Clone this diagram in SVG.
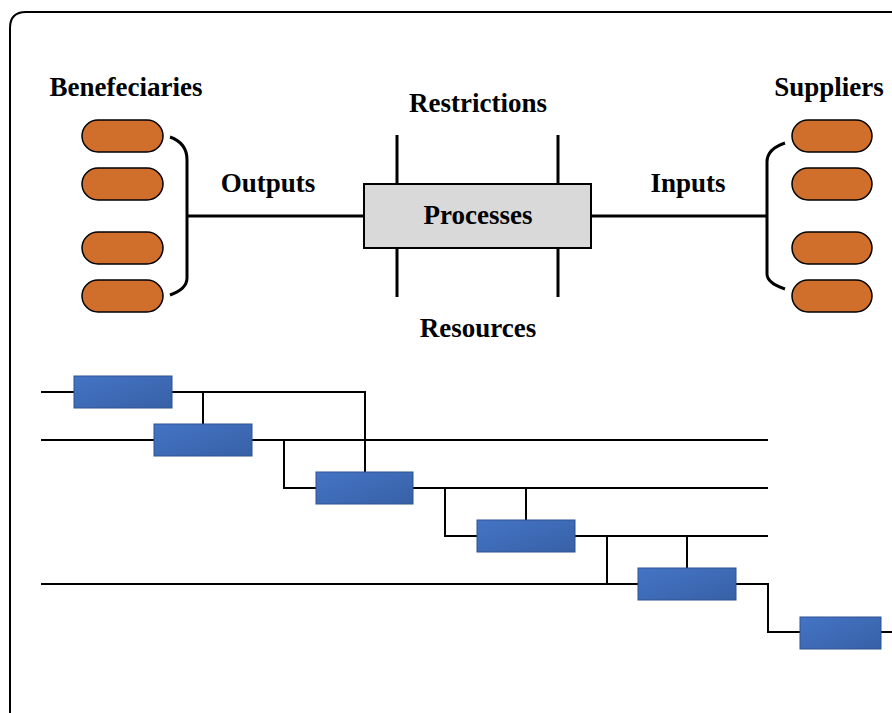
<svg xmlns="http://www.w3.org/2000/svg" width="892" height="713" viewBox="0 0 892 713">
<style>
.lbl{font-family:"Liberation Serif","Times New Roman",serif;font-weight:bold;font-size:27px;fill:#000;text-anchor:middle}
.pill{fill:#d06e2c;stroke:#000;stroke-width:1.5}
.task{fill:url(#blue);stroke:#2f528f;stroke-width:1}
.ln{fill:none;stroke:#000;stroke-width:2}
.br{fill:none;stroke:#000;stroke-width:3}
</style>
<defs>
<linearGradient id="blue" x1="0" y1="0" x2="1" y2="1">
<stop offset="0" stop-color="#4574c6"/>
<stop offset="1" stop-color="#3761a6"/>
</linearGradient>
</defs>
<rect width="892" height="713" fill="#fff"/>
<path id="frame" d="M10,740 V28 Q10,12 26,12 H920" fill="none" stroke="#000" stroke-width="2"/>

<g id="connectors">
<path class="br" d="M170,137 Q187,143 187,160 V278 Q187,289 170,295"/>
<path class="br" d="M187,216 H365"/>
<path class="br" d="M785,143 Q767,149 767,162 V274 Q767,283 785,289"/>
<path class="br" d="M591,216 H767"/>
<path class="br" d="M397,135 V184 M558,135 V184 M397,248 V297 M558,248 V297"/>
<path class="ln" d="M41,392 H74 M172,392 H365 V472 M203,392 V424"/>
<path class="ln" d="M41,440 H154 M252,440 H768 M284,440 V488 H316"/>
<path class="ln" d="M413,488 H768 M445,488 V536 H477 M526,488 V520"/>
<path class="ln" d="M575,536 H768 M607,536 V584 M41,584 H638 M687,536 V568"/>
<path class="ln" d="M736,584 H768 V632 H800 M881,632 H892"/>
</g>

<g id="beneficiaries">
<text class="lbl" x="126" y="96">Benefeciaries</text>
<rect class="pill" x="82" y="120" width="81" height="32" rx="16"/>
<rect class="pill" x="82" y="168" width="81" height="32" rx="16"/>
<rect class="pill" x="82" y="232" width="81" height="32" rx="16"/>
<rect class="pill" x="82" y="280" width="81" height="32" rx="16"/>
</g>

<g id="suppliers">
<text class="lbl" x="829" y="96">Suppliers</text>
<rect class="pill" x="792" y="120" width="80" height="32" rx="16"/>
<rect class="pill" x="792" y="168" width="80" height="32" rx="16"/>
<rect class="pill" x="792" y="232" width="80" height="32" rx="16"/>
<rect class="pill" x="792" y="280" width="80" height="32" rx="16"/>
</g>

<g id="processes">
<rect x="364" y="184" width="227" height="64" fill="#d9d9d9" stroke="#000" stroke-width="2"/>
<text class="lbl" x="478" y="224">Processes</text>
</g>
<g id="outputs"><text class="lbl" x="268" y="192">Outputs</text></g>
<g id="inputs"><text class="lbl" x="688" y="192">Inputs</text></g>
<g id="restrictions"><text class="lbl" x="478" y="112">Restrictions</text></g>
<g id="resources"><text class="lbl" x="478" y="337">Resources</text></g>

<g id="task1"><rect class="task" x="74" y="376" width="98" height="32"/></g>
<g id="task2"><rect class="task" x="154" y="424" width="98" height="32"/></g>
<g id="task3"><rect class="task" x="316" y="472" width="97" height="32"/></g>
<g id="task4"><rect class="task" x="477" y="520" width="98" height="32"/></g>
<g id="task5"><rect class="task" x="638" y="568" width="98" height="32"/></g>
<g id="task6"><rect class="task" x="800" y="617" width="81" height="32"/></g>
</svg>
